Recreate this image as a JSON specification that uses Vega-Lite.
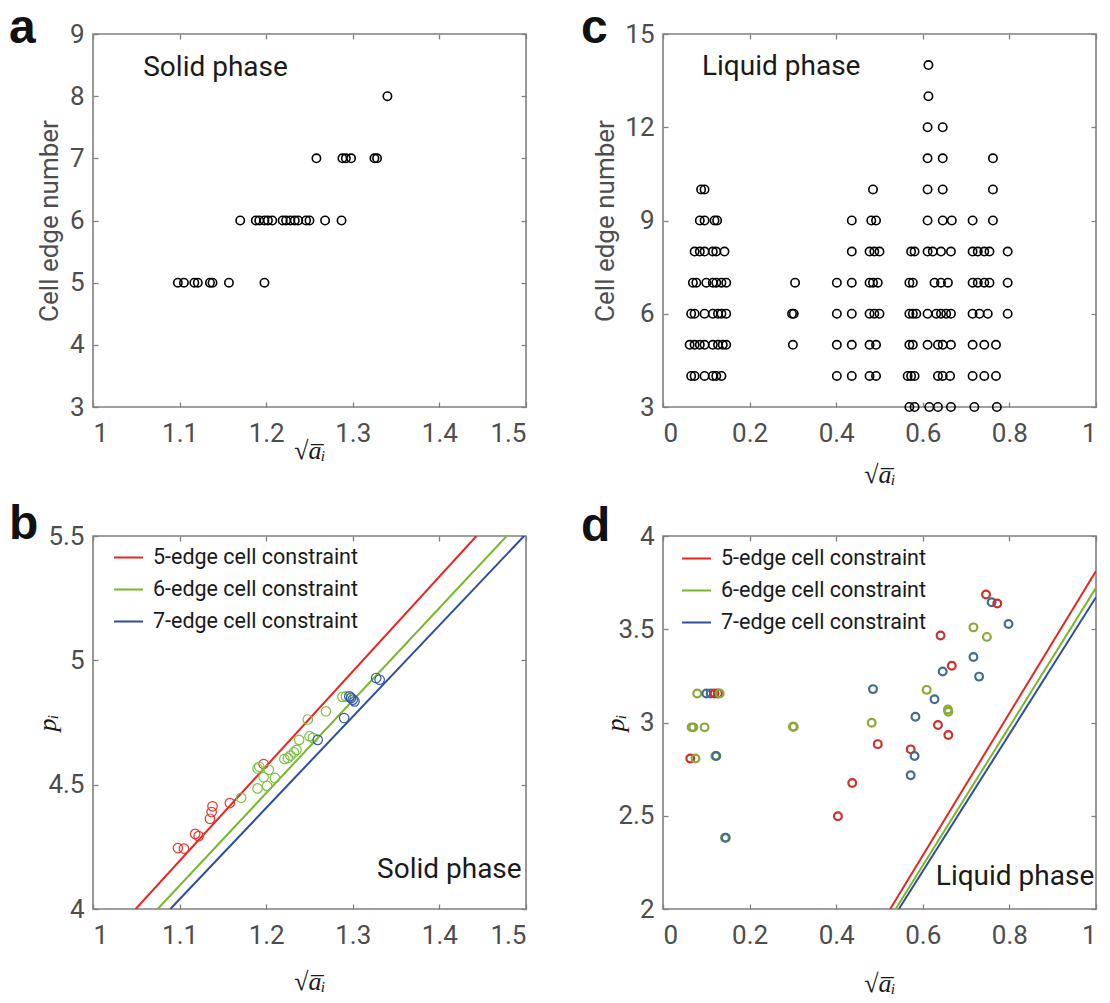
{
"$schema": "https://vega.github.io/schema/vega-lite/v6.json",
"background": "white",
"padding": {"left": 8, "top": 4, "right": 0, "bottom": 0},
"columns": 2,
"spacing": {"row": 129, "column": 137},
"bounds": "flush",
"datasets": {
"aPts": [{"x":1.098,"n":5},{"x":1.105,"n":5},{"x":1.117,"n":5},{"x":1.121,"n":5},{"x":1.135,"n":5},{"x":1.138,"n":5},{"x":1.157,"n":5},{"x":1.198,"n":5},
{"x":1.170,"n":6},{"x":1.188,"n":6},{"x":1.192,"n":6},{"x":1.198,"n":6},{"x":1.202,"n":6},{"x":1.207,"n":6},{"x":1.219,"n":6},{"x":1.223,"n":6},{"x":1.228,"n":6},{"x":1.233,"n":6},{"x":1.237,"n":6},{"x":1.246,"n":6},{"x":1.250,"n":6},{"x":1.268,"n":6},{"x":1.287,"n":6},
{"x":1.258,"n":7},{"x":1.288,"n":7},{"x":1.292,"n":7},{"x":1.298,"n":7},{"x":1.325,"n":7},{"x":1.328,"n":7},
{"x":1.340,"n":8}],
"cPts": [{"x":0.613,"n":14},{"x":0.613,"n":13},{"x":0.611,"n":12},{"x":0.646,"n":12},
{"x":0.611,"n":11},{"x":0.646,"n":11},{"x":0.762,"n":11},
{"x":0.088,"n":10},{"x":0.096,"n":10},{"x":0.485,"n":10},{"x":0.611,"n":10},{"x":0.646,"n":10},{"x":0.762,"n":10},
{"x":0.085,"n":9},{"x":0.096,"n":9},{"x":0.119,"n":9},{"x":0.125,"n":9},{"x":0.436,"n":9},{"x":0.481,"n":9},{"x":0.492,"n":9},{"x":0.611,"n":9},{"x":0.646,"n":9},{"x":0.667,"n":9},{"x":0.715,"n":9},{"x":0.762,"n":9},
{"x":0.073,"n":8},{"x":0.085,"n":8},{"x":0.096,"n":8},{"x":0.115,"n":8},{"x":0.123,"n":8},{"x":0.142,"n":8},{"x":0.436,"n":8},{"x":0.477,"n":8},{"x":0.488,"n":8},{"x":0.500,"n":8},{"x":0.573,"n":8},{"x":0.581,"n":8},{"x":0.611,"n":8},{"x":0.623,"n":8},{"x":0.642,"n":8},{"x":0.665,"n":8},{"x":0.715,"n":8},{"x":0.727,"n":8},{"x":0.742,"n":8},{"x":0.754,"n":8},{"x":0.796,"n":8},
{"x":0.069,"n":7},{"x":0.077,"n":7},{"x":0.100,"n":7},{"x":0.115,"n":7},{"x":0.123,"n":7},{"x":0.135,"n":7},{"x":0.146,"n":7},{"x":0.305,"n":7},{"x":0.4015,"n":7},{"x":0.436,"n":7},{"x":0.477,"n":7},{"x":0.485,"n":7},{"x":0.496,"n":7},{"x":0.569,"n":7},{"x":0.577,"n":7},{"x":0.627,"n":7},{"x":0.642,"n":7},{"x":0.658,"n":7},{"x":0.715,"n":7},{"x":0.727,"n":7},{"x":0.742,"n":7},{"x":0.754,"n":7},{"x":0.796,"n":7},
{"x":0.065,"n":6},{"x":0.073,"n":6},{"x":0.096,"n":6},{"x":0.115,"n":6},{"x":0.127,"n":6},{"x":0.135,"n":6},{"x":0.146,"n":6},{"x":0.298,"n":6},{"x":0.302,"n":6},{"x":0.4015,"n":6},{"x":0.436,"n":6},{"x":0.477,"n":6},{"x":0.488,"n":6},{"x":0.500,"n":6},{"x":0.569,"n":6},{"x":0.577,"n":6},{"x":0.585,"n":6},{"x":0.611,"n":6},{"x":0.631,"n":6},{"x":0.642,"n":6},{"x":0.654,"n":6},{"x":0.665,"n":6},{"x":0.715,"n":6},{"x":0.731,"n":6},{"x":0.750,"n":6},{"x":0.796,"n":6},
{"x":0.0615,"n":5},{"x":0.073,"n":5},{"x":0.085,"n":5},{"x":0.096,"n":5},{"x":0.115,"n":5},{"x":0.127,"n":5},{"x":0.138,"n":5},{"x":0.146,"n":5},{"x":0.300,"n":5},{"x":0.4015,"n":5},{"x":0.436,"n":5},{"x":0.477,"n":5},{"x":0.492,"n":5},{"x":0.569,"n":5},{"x":0.577,"n":5},{"x":0.611,"n":5},{"x":0.635,"n":5},{"x":0.646,"n":5},{"x":0.665,"n":5},{"x":0.715,"n":5},{"x":0.742,"n":5},{"x":0.769,"n":5},
{"x":0.065,"n":4},{"x":0.073,"n":4},{"x":0.096,"n":4},{"x":0.115,"n":4},{"x":0.123,"n":4},{"x":0.135,"n":4},{"x":0.4015,"n":4},{"x":0.436,"n":4},{"x":0.477,"n":4},{"x":0.492,"n":4},{"x":0.565,"n":4},{"x":0.573,"n":4},{"x":0.581,"n":4},{"x":0.635,"n":4},{"x":0.646,"n":4},{"x":0.663,"n":4},{"x":0.715,"n":4},{"x":0.742,"n":4},{"x":0.769,"n":4},
{"x":0.569,"n":3},{"x":0.581,"n":3},{"x":0.615,"n":3},{"x":0.635,"n":3},{"x":0.665,"n":3},{"x":0.719,"n":3},{"x":0.771,"n":3}],
"bLines": [{"x":1.0493,"p":4,"edge":"5-edge cell constraint"},{"x":1.4428,"p":5.5,"edge":"5-edge cell constraint"},{"x":1.0747,"p":4,"edge":"6-edge cell constraint"},{"x":1.4777,"p":5.5,"edge":"6-edge cell constraint"},{"x":1.0893,"p":4,"edge":"7-edge cell constraint"},{"x":1.4978,"p":5.5,"edge":"7-edge cell constraint"}],
"bPts": [{"x":1.098,"p":4.245,"e":5},{"x":1.105,"p":4.243,"e":5},{"x":1.118,"p":4.302,"e":5},{"x":1.122,"p":4.293,"e":5},{"x":1.135,"p":4.363,"e":5},{"x":1.137,"p":4.39,"e":5},{"x":1.138,"p":4.413,"e":5},{"x":1.158,"p":4.426,"e":5},{"x":1.197,"p":4.583,"e":5},
{"x":1.171,"p":4.447,"e":6},{"x":1.190,"p":4.565,"e":6},{"x":1.192,"p":4.572,"e":6},{"x":1.197,"p":4.53,"e":6},{"x":1.203,"p":4.56,"e":6},{"x":1.190,"p":4.485,"e":6},{"x":1.201,"p":4.495,"e":6},{"x":1.210,"p":4.527,"e":6},{"x":1.221,"p":4.603,"e":6},{"x":1.225,"p":4.607,"e":6},{"x":1.228,"p":4.617,"e":6},{"x":1.232,"p":4.63,"e":6},{"x":1.235,"p":4.64,"e":6},{"x":1.238,"p":4.68,"e":6},{"x":1.248,"p":4.762,"e":6},{"x":1.250,"p":4.695,"e":6},{"x":1.254,"p":4.688,"e":6},{"x":1.269,"p":4.795,"e":6},{"x":1.288,"p":4.853,"e":6},{"x":1.292,"p":4.855,"e":6},
{"x":1.2595,"p":4.68,"e":7},{"x":1.290,"p":4.768,"e":7},{"x":1.296,"p":4.855,"e":7},{"x":1.298,"p":4.849,"e":7},{"x":1.300,"p":4.842,"e":7},{"x":1.302,"p":4.835,"e":7},{"x":1.327,"p":4.929,"e":7},{"x":1.331,"p":4.922,"e":7}],
"dLines": [{"x":0.5247,"p":2,"edge":"5-edge cell constraint"},{"x":1,"p":3.812,"edge":"5-edge cell constraint"},{"x":0.5373,"p":2,"edge":"6-edge cell constraint"},{"x":1,"p":3.722,"edge":"6-edge cell constraint"},{"x":0.5447,"p":2,"edge":"7-edge cell constraint"},{"x":1,"p":3.672,"edge":"7-edge cell constraint"}],
"dPts": [{"x":0.079,"p":3.155,"e":6},{"x":0.100,"p":3.155,"e":7},{"x":0.110,"p":3.155,"e":7},{"x":0.119,"p":3.155,"e":5},{"x":0.127,"p":3.155,"e":5},{"x":0.131,"p":3.155,"e":6},
{"x":0.066,"p":2.974,"e":6},{"x":0.070,"p":2.974,"e":6},{"x":0.096,"p":2.974,"e":6},
{"x":0.063,"p":2.807,"e":5},{"x":0.075,"p":2.807,"e":6},
{"x":0.121,"p":2.820,"e":6},{"x":0.123,"p":2.820,"e":7},
{"x":0.143,"p":2.382,"e":6},{"x":0.145,"p":2.382,"e":7},
{"x":0.300,"p":2.977,"e":6},{"x":0.302,"p":2.977,"e":6},
{"x":0.404,"p":2.497,"e":5},{"x":0.437,"p":2.676,"e":5},
{"x":0.485,"p":3.179,"e":7},{"x":0.482,"p":2.999,"e":6},{"x":0.496,"p":2.884,"e":5},
{"x":0.572,"p":2.856,"e":5},{"x":0.581,"p":2.820,"e":7},{"x":0.572,"p":2.717,"e":7},{"x":0.583,"p":3.031,"e":7},
{"x":0.609,"p":3.175,"e":6},{"x":0.627,"p":3.125,"e":7},{"x":0.635,"p":2.987,"e":5},
{"x":0.658,"p":3.070,"e":6},{"x":0.659,"p":3.058,"e":6},{"x":0.659,"p":2.933,"e":5},
{"x":0.641,"p":3.466,"e":5},{"x":0.646,"p":3.273,"e":7},{"x":0.667,"p":3.304,"e":5},
{"x":0.717,"p":3.510,"e":6},{"x":0.748,"p":3.459,"e":6},{"x":0.717,"p":3.351,"e":7},{"x":0.730,"p":3.246,"e":7},
{"x":0.746,"p":3.686,"e":5},{"x":0.759,"p":3.645,"e":7},{"x":0.772,"p":3.638,"e":5},{"x":0.798,"p":3.528,"e":7}]
},
"concat": [
{
"width": 433, "height": 373,
"title": {"text": "a", "dx": -84, "dy": 36},
"layer": [
{"data": {"name": "aPts"},
 "mark": {"type": "point", "shape": "circle", "filled": false, "size": 70, "strokeWidth": 1.6, "color": "#000000", "opacity": 1},
 "encoding": {
  "x": {"field": "x", "type": "quantitative", "scale": {"domain": [1, 1.5], "nice": false, "zero": false},
        "axis": {"orient": "bottom", "values": [1, 1.1, 1.2, 1.3, 1.4, 1.5], "format": "~f", "title": "√a̅ᵢ", "titleFontStyle": "italic", "titleY": 51, "titleBaseline": "alphabetic"}},
  "y": {"field": "n", "type": "quantitative", "scale": {"domain": [3, 9], "nice": false, "zero": false},
        "axis": {"orient": "left", "values": [3, 4, 5, 6, 7, 8, 9], "format": "~f", "title": "Cell edge number", "titleFont": "Roboto", "titleColor": "#4d4d4d", "titleX": -44, "titleY": 186.5, "titleBaseline": "middle", "titleAngle": -90}}
 }},
{"data": {"values": [{"x": 1.058, "y": 8.46, "t": "Solid phase"}]},
 "mark": {"type": "text", "align": "left", "baseline": "middle", "fontSize": 28, "color": "#1a1a1a", "font": "Roboto"},
 "encoding": {
  "x": {"field": "x", "type": "quantitative", "axis": {"orient": "top", "labels": false, "title": null, "values": [1, 1.1, 1.2, 1.3, 1.4, 1.5]}},
  "y": {"field": "y", "type": "quantitative", "axis": {"orient": "right", "labels": false, "title": null, "values": [3, 4, 5, 6, 7, 8, 9]}},
  "text": {"field": "t"}
 }}
],
"resolve": {"axis": {"x": "independent", "y": "independent"}}
},
{
"width": 433, "height": 373,
"title": {"text": "c", "dx": -82, "dy": 36},
"layer": [
{"data": {"name": "cPts"},
 "mark": {"type": "point", "shape": "circle", "filled": false, "size": 70, "strokeWidth": 1.6, "color": "#000000", "opacity": 1},
 "encoding": {
  "x": {"field": "x", "type": "quantitative", "scale": {"domain": [0, 1], "nice": false, "zero": false},
        "axis": {"orient": "bottom", "values": [0, 0.2, 0.4, 0.6, 0.8, 1], "format": "~f", "title": "√a̅ᵢ", "titleFontStyle": "italic", "titleY": 75, "titleBaseline": "alphabetic"}},
  "y": {"field": "n", "type": "quantitative", "scale": {"domain": [3, 15], "nice": false, "zero": false},
        "axis": {"orient": "left", "values": [3, 6, 9, 12, 15], "format": "~f", "title": "Cell edge number", "titleFont": "Roboto", "titleColor": "#4d4d4d", "titleX": -58, "titleY": 186.5, "titleBaseline": "middle", "titleAngle": -90}}
 }},
{"data": {"values": [{"x": 0.09, "y": 13.95, "t": "Liquid phase"}]},
 "mark": {"type": "text", "align": "left", "baseline": "middle", "fontSize": 28, "color": "#1a1a1a", "font": "Roboto"},
 "encoding": {
  "x": {"field": "x", "type": "quantitative", "axis": {"orient": "top", "labels": false, "title": null, "values": [0, 0.2, 0.4, 0.6, 0.8, 1]}},
  "y": {"field": "y", "type": "quantitative", "axis": {"orient": "right", "labels": false, "title": null, "values": [3, 6, 9, 12, 15]}},
  "text": {"field": "t"}
 }}
],
"resolve": {"axis": {"x": "independent", "y": "independent"}}
},
{
"width": 433, "height": 373,
"title": {"text": "b", "dx": -84, "dy": 30},
"layer": [
{"data": {"name": "bLines"},
 "mark": {"type": "line", "strokeWidth": 2, "clip": true},
 "encoding": {
  "x": {"field": "x", "type": "quantitative", "scale": {"domain": [1, 1.5], "nice": false, "zero": false},
        "axis": {"orient": "bottom", "values": [1, 1.1, 1.2, 1.3, 1.4, 1.5], "format": "~f", "title": "√a̅ᵢ", "titleFontStyle": "italic", "titleY": 80, "titleBaseline": "alphabetic"}},
  "y": {"field": "p", "type": "quantitative", "scale": {"domain": [4, 5.5], "nice": false, "zero": false},
        "axis": {"orient": "left", "values": [4, 4.5, 5, 5.5], "format": "~f", "title": "pᵢ", "titleFontStyle": "italic", "titleX": -46, "titleY": 186.5, "titleBaseline": "middle", "titleAngle": -90}},
  "color": {"field": "edge", "type": "nominal",
            "scale": {"domain": ["5-edge cell constraint", "6-edge cell constraint", "7-edge cell constraint"], "range": ["#e8251e", "#76b82a", "#2b4ea2"]},
            "legend": {"title": null, "orient": "none", "legendX": 20, "legendY": 6, "symbolType": "stroke", "symbolSize": 841, "symbolStrokeWidth": 2, "labelFontSize": 21.5, "labelFont": "Roboto", "labelColor": "#1a1a1a", "labelOffset": 9, "labelLimit": 400, "rowPadding": 6, "padding": 0}}
 }},
{"data": {"name": "bPts"},
 "mark": {"type": "point", "shape": "circle", "filled": false, "size": 90, "strokeWidth": 1.2, "opacity": 1},
 "encoding": {
  "x": {"field": "x", "type": "quantitative", "axis": null},
  "y": {"field": "p", "type": "quantitative", "axis": null},
  "stroke": {"field": "e", "type": "nominal", "scale": {"domain": [5, 6, 7], "range": ["#e8352b", "#7cc043", "#3457ab"]}, "legend": null}
 }},
{"data": {"values": [{"x": 1.495, "p": 4.155, "t": "Solid phase"}]},
 "mark": {"type": "text", "align": "right", "baseline": "middle", "fontSize": 28, "color": "#1a1a1a", "font": "Roboto"},
 "encoding": {
  "x": {"field": "x", "type": "quantitative", "axis": {"orient": "top", "labels": false, "title": null, "values": [1, 1.1, 1.2, 1.3, 1.4, 1.5]}},
  "y": {"field": "p", "type": "quantitative", "axis": {"orient": "right", "labels": false, "title": null, "values": [4, 4.5, 5, 5.5]}},
  "text": {"field": "t"}
 }}
],
"resolve": {"axis": {"x": "independent", "y": "independent"}}
},
{
"width": 433, "height": 373,
"title": {"text": "d", "dx": -82, "dy": 32},
"layer": [
{"data": {"name": "dLines"},
 "mark": {"type": "line", "strokeWidth": 2, "clip": true},
 "encoding": {
  "x": {"field": "x", "type": "quantitative", "scale": {"domain": [0, 1], "nice": false, "zero": false},
        "axis": {"orient": "bottom", "values": [0, 0.2, 0.4, 0.6, 0.8, 1], "format": "~f", "title": "√a̅ᵢ", "titleFontStyle": "italic", "titleY": 82, "titleBaseline": "alphabetic"}},
  "y": {"field": "p", "type": "quantitative", "scale": {"domain": [2, 4], "nice": false, "zero": false},
        "axis": {"orient": "left", "values": [2, 2.5, 3, 3.5, 4], "format": "~f", "title": "pᵢ", "titleFontStyle": "italic", "titleX": -48, "titleY": 186.5, "titleBaseline": "middle", "titleAngle": -90}},
  "color": {"field": "edge", "type": "nominal",
            "scale": {"domain": ["5-edge cell constraint", "6-edge cell constraint", "7-edge cell constraint"], "range": ["#e8251e", "#76b82a", "#2b4ea2"]},
            "legend": {"title": null, "orient": "none", "legendX": 18, "legendY": 7, "symbolType": "stroke", "symbolSize": 841, "symbolStrokeWidth": 2, "labelFontSize": 21.5, "labelFont": "Roboto", "labelColor": "#1a1a1a", "labelOffset": 9, "labelLimit": 400, "rowPadding": 6, "padding": 0}}
 }},
{"data": {"name": "dPts"},
 "mark": {"type": "point", "shape": "circle", "filled": false, "size": 60, "strokeWidth": 2.2, "opacity": 1},
 "encoding": {
  "x": {"field": "x", "type": "quantitative", "axis": null},
  "y": {"field": "p", "type": "quantitative", "axis": null},
  "stroke": {"field": "e", "type": "nominal", "scale": {"domain": [5, 6, 7], "range": ["#c9322b", "#8da83a", "#3f6d96"]}, "legend": null}
 }},
{"data": {"values": [{"x": 0.996, "p": 2.174, "t": "Liquid phase"}]},
 "mark": {"type": "text", "align": "right", "baseline": "middle", "fontSize": 28, "color": "#1a1a1a", "font": "Roboto"},
 "encoding": {
  "x": {"field": "x", "type": "quantitative", "axis": {"orient": "top", "labels": false, "title": null, "values": [0, 0.2, 0.4, 0.6, 0.8, 1]}},
  "y": {"field": "p", "type": "quantitative", "axis": {"orient": "right", "labels": false, "title": null, "values": [2, 2.5, 3, 3.5, 4]}},
  "text": {"field": "t"}
 }}
],
"resolve": {"axis": {"x": "independent", "y": "independent"}}
}
],
"resolve": {"scale": {"x": "independent", "y": "independent", "color": "independent", "stroke": "independent"}, "legend": {"color": "independent", "stroke": "independent"}},
"config": {
 "font": "Roboto",
 "view": {"stroke": "#808080", "strokeWidth": 1.6},
 "axis": {"grid": false, "domain": false, "ticks": true, "tickColor": "#808080", "tickSize": -5, "tickWidth": 1.3,
          "labelFont": "Roboto", "labelFontSize": 26, "labelColor": "#4d4d4d",
          "titleFont": "Liberation Serif", "titleFontSize": 26, "titleFontWeight": "normal", "titleColor": "#1a1a1a"},
 "axisLeft": {"labelPadding": 14},
 "axisBottom": {"labelPadding": 18},
 "title": {"anchor": "start", "frame": "group", "font": "Liberation Sans", "fontSize": 48, "fontWeight": "bold", "color": "#111111", "offset": 0, "baseline": "alphabetic"}
}
}
